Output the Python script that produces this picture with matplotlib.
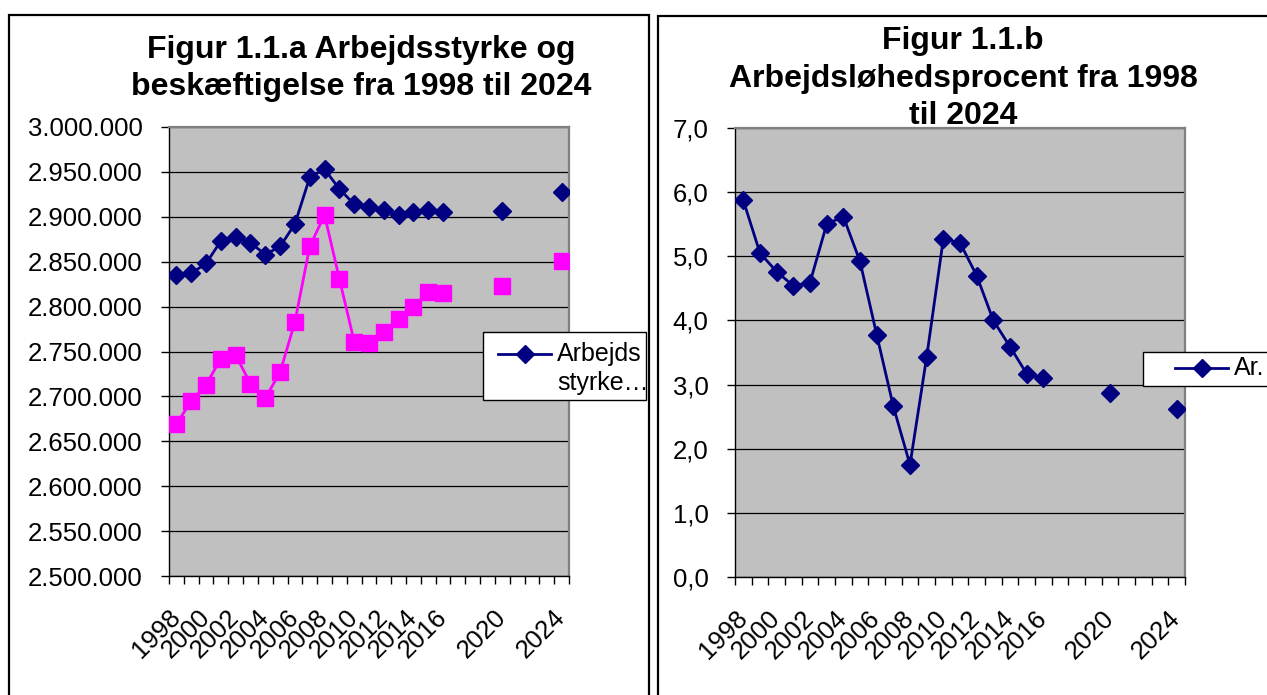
import numpy as np
import matplotlib
matplotlib.use("Agg")
import matplotlib.pyplot as plt
from matplotlib.patches import Rectangle
from matplotlib.lines import Line2D
from matplotlib.ticker import FuncFormatter

plt.rcParams['font.family'] = ['Liberation Sans', 'DejaVu Sans']

# ---- data ----
years = list(range(1998, 2025))
cat_labels = ['1998', '1999', '2000', '2001', '2002', '2003', '2004', '2005', '2006', '2007',
              '2008', '2009', '2010', '2011', '2012', '2013', '2014', '2015', '2016',
              '', '', '', '2020', '', '', '', '2024']
nan = np.nan
arbejdsstyrke = [2835000, 2837000, 2848000, 2873000, 2878000, 2871000, 2858000, 2867000, 2892000,
                 2944000, 2953000, 2931000, 2914000, 2911000, 2908000, 2902000, 2905000, 2908000,
                 2905000, nan, nan, nan, 2906000, nan, nan, nan, 2928000]
beskaeftigelse = [2669000, 2695000, 2713000, 2742000, 2746000, 2714000, 2698000, 2727000, 2783000,
                  2867000, 2902000, 2831000, 2761000, 2760000, 2772000, 2786000, 2800000, 2816000,
                  2815000, nan, nan, nan, 2823000, nan, nan, nan, 2851000]
ledighed = [5.87, 5.05, 4.76, 4.54, 4.59, 5.50, 5.62, 4.92, 3.78, 2.66, 1.75, 3.43, 5.27, 5.21,
            4.70, 4.00, 3.59, 3.17, 3.10, nan, nan, nan, 2.87, nan, nan, nan, 2.62]

title_a = ["Figur 1.1.a Arbejdsstyrke og", "beskæftigelse fra 1998 til 2024"]
title_b = ["Figur 1.1.b", "Arbejdsløhedsprocent fra 1998", "til 2024"]

# ---- figure ----
W, H = 1267, 695
fig = plt.figure(figsize=(W / 100, H / 100), dpi=100)

def fx(x):
    return x / W

def fy(y):
    return 1 - y / H

NAVY = '#000080'
MAG = '#FF00FF'
BG = '#C0C0C0'

def setup_axis(ax, ylim, yticks, fmt):
    ax.set_facecolor(BG)
    x = np.arange(len(years))
    ax.set_xlim(-0.5, len(years) - 0.5)
    ax.set_ylim(*ylim)
    ax.set_yticks(yticks)
    ax.yaxis.set_major_formatter(FuncFormatter(fmt))
    ax.grid(axis='y', color='black', lw=0.9)
    ax.set_axisbelow(True)
    ax.set_xticks(np.arange(-0.5, len(years), 1))
    ax.set_xticklabels([])
    idx = list(range(0, len(years), 2))
    ax.set_xticks(idx, minor=True)
    ax.set_xticklabels([cat_labels[i] for i in idx], minor=True, rotation=45,
                       ha='right', va='center', rotation_mode='anchor', fontsize=18.5)
    ax.tick_params(axis='x', which='major', length=6, width=1, direction='out', color='black')
    ax.tick_params(axis='x', which='minor', length=0, pad=27)
    ax.tick_params(axis='y', length=6, width=1, direction='out', labelsize=18.5, pad=13)
    for s in ('top', 'right'):
        ax.spines[s].set_color('#808080')
        ax.spines[s].set_linewidth(1.6)
    for s in ('left', 'bottom'):
        ax.spines[s].set_color('black')
        ax.spines[s].set_linewidth(1.0)
    return x

# left chart
axL = fig.add_axes([fx(169), fy(576), fx(569) - fx(169), fy(127) - fy(576)])
x = setup_axis(axL, (2500000, 3000000), np.arange(2500000, 3000001, 50000),
               lambda v, p: f"{v:,.0f}".replace(',', '.'))
axL.plot(x, beskaeftigelse, color=MAG, lw=2.0, marker='s', ms=11, mec=MAG, mfc=MAG, zorder=3)
axL.plot(x, arbejdsstyrke, color=NAVY, lw=2.0, marker='D', ms=9, mec=NAVY, mfc=NAVY, zorder=4)

# right chart
axR = fig.add_axes([fx(735), fy(577), fx(1185) - fx(735), fy(128) - fy(577)])
x = setup_axis(axR, (0, 7), np.arange(0, 7.01, 1.0),
               lambda v, p: f"{v:.1f}".replace('.', ','))
axR.plot(x, ledighed, color=NAVY, lw=2.0, marker='D', ms=9, mec=NAVY, mfc=NAVY, zorder=4)

# panel borders
fig.add_artist(Rectangle((fx(9), fy(720)), fx(649) - fx(9), fy(15) - fy(720),
                         transform=fig.transFigure, fill=False, ec='black', lw=1.6))
fig.add_artist(Rectangle((fx(658), fy(720)), fx(1300) - fx(658), fy(16) - fy(720),
                         transform=fig.transFigure, fill=False, ec='black', lw=1.6))

# titles
for txt, yb in zip(title_a, [58, 95]):
    fig.text(fx(361), fy(yb), txt, ha='center', va='baseline', fontsize=23, fontweight='bold')
for txt, yb in zip(title_b, [49, 87, 124]):
    fig.text(fx(963), fy(yb), txt, ha='center', va='baseline', fontsize=23, fontweight='bold')

# legends (drawn as boxes with sample line + marker)
def legend_box(x0, y0, x1, y1, lx0, lx1, ly, lines, tx, fs=18):
    fig.add_artist(Rectangle((fx(x0), fy(y1)), fx(x1) - fx(x0), fy(y0) - fy(y1),
                             transform=fig.transFigure, fc='white', ec='black', lw=1.0, zorder=5))
    fig.add_artist(Line2D([fx(lx0), fx(lx1)], [fy(ly), fy(ly)], transform=fig.transFigure,
                          color=NAVY, lw=2.0, zorder=6))
    fig.add_artist(Line2D([fx((lx0 + lx1) / 2)], [fy(ly)], transform=fig.transFigure,
                          color=NAVY, marker='D', ms=9, mec=NAVY, mfc=NAVY, zorder=6))
    for i, t in enumerate(lines):
        fig.text(fx(tx), fy(ly + i * 29), t, ha='left', va='center', fontsize=fs, zorder=7)

legend_box(483, 332, 646, 400, 498, 551, 354, ["Arbejds", "styrke…"], 557)
legend_box(1143, 352, 1300, 386, 1175, 1228, 368, ["Ar."], 1234)

fig.savefig('out.png', dpi=100)
